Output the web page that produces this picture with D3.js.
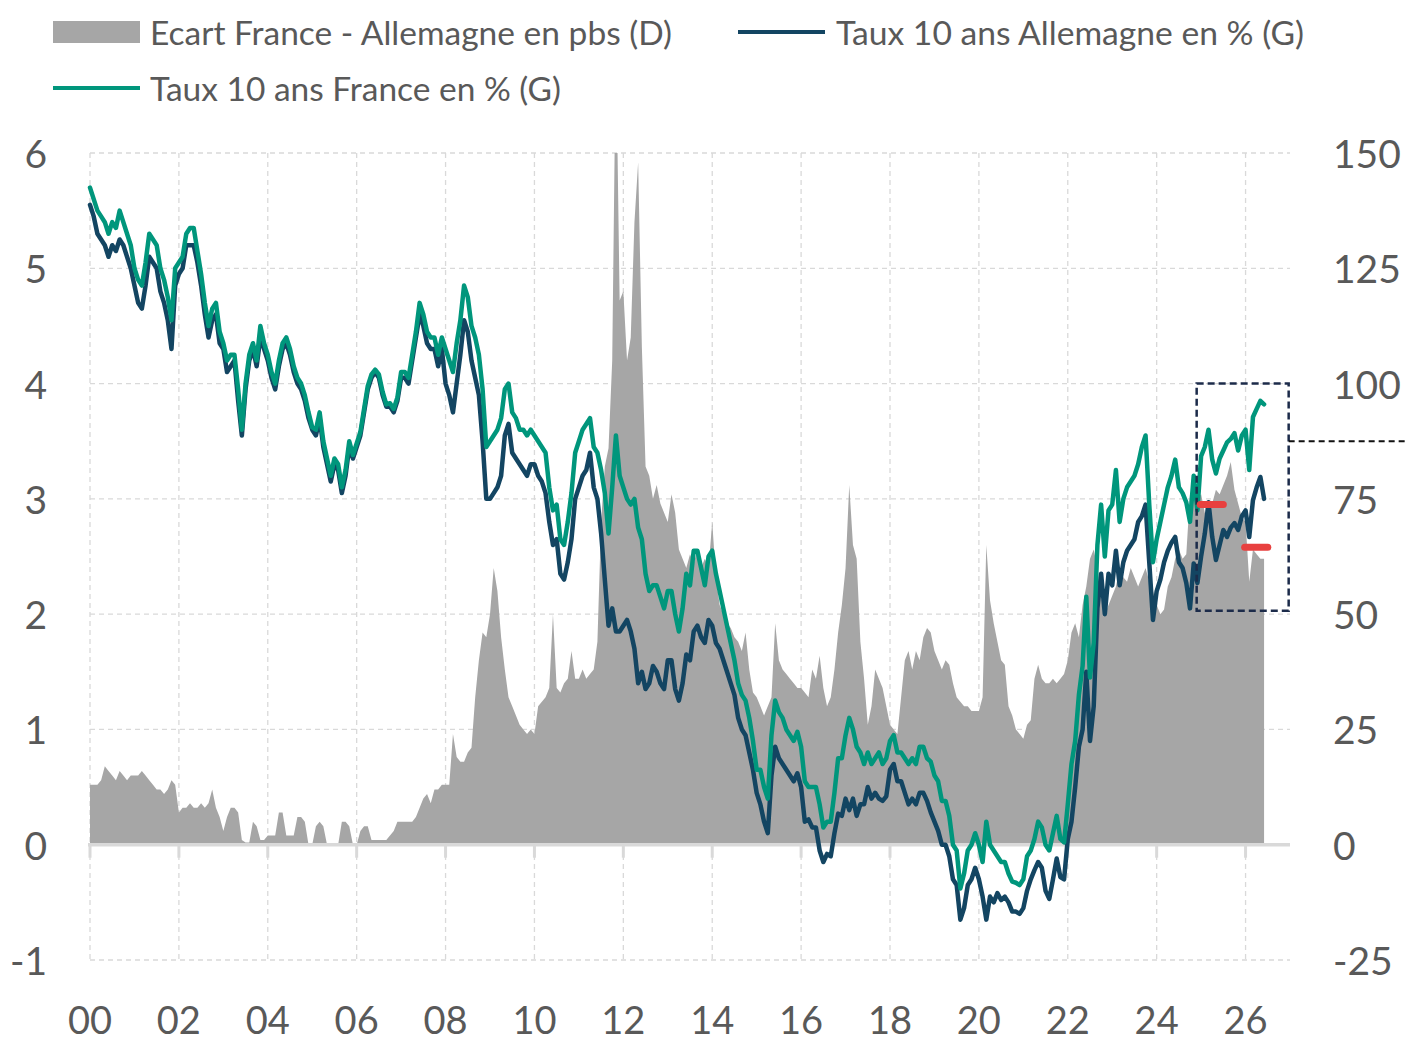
<!DOCTYPE html>
<html lang="fr">
<head>
<meta charset="UTF-8">
<title>Taux 10 ans France / Allemagne</title>
<style>
  body { margin: 0; background: #fff; font-family: Lato, "Open Sans", sans-serif; }
  .grid line { stroke: #d9d9d9; stroke-width: 1.3px; stroke-dasharray: 5,4; }
  .lbl { fill: #595959; font-size: 39px; }
  .xlbl { fill: #595959; font-size: 38px; }
  .legend text { fill: #595959; font-size: 33px; }
</style>
</head>
<body>
<svg width="1405" height="1042"></svg>
<script src="https://d3js.org/d3.v7.min.js"></script>
<script>
// monthly values, first point = Jan 2000
const de10 = [
  5.55, 5.45, 5.3, 5.25, 5.2, 5.1, 5.2, 5.15, 5.25, 5.2, 5.1, 5.0,        // 2000
  4.85, 4.7, 4.65, 4.85, 5.1, 5.05, 5.0, 4.8, 4.7, 4.55, 4.3, 4.85,       // 2001
  4.95, 5.0, 5.2, 5.2, 5.2, 5.05, 4.85, 4.6, 4.4, 4.55, 4.6, 4.35,        // 2002
  4.3, 4.1, 4.15, 4.2, 3.85, 3.55, 3.95, 4.2, 4.3, 4.15, 4.4, 4.3,        // 2003
  4.2, 4.05, 3.95, 4.15, 4.3, 4.35, 4.25, 4.1, 4.0, 3.95, 3.85, 3.7,      // 2004
  3.6, 3.55, 3.7, 3.45, 3.3, 3.15, 3.3, 3.25, 3.05, 3.2, 3.45, 3.35,      // 2005
  3.45, 3.55, 3.75, 3.95, 4.05, 4.1, 4.05, 3.9, 3.8, 3.8, 3.75, 3.85,     // 2006
  4.05, 4.05, 4.0, 4.2, 4.4, 4.6, 4.5, 4.35, 4.3, 4.3, 4.15, 4.3,         // 2007
  4.0, 3.9, 3.75, 4.0, 4.25, 4.55, 4.45, 4.2, 4.05, 3.9, 3.5, 3.0,        // 2008
  3.0, 3.05, 3.1, 3.2, 3.55, 3.65, 3.4, 3.35, 3.3, 3.25, 3.2, 3.3,        // 2009
  3.3, 3.2, 3.15, 3.05, 2.8, 2.6, 2.65, 2.35, 2.3, 2.45, 2.65, 3.0,       // 2010
  3.1, 3.2, 3.25, 3.4, 3.1, 3.0, 2.7, 2.3, 1.9, 2.05, 1.85, 1.85,         // 2011
  1.9, 1.95, 1.85, 1.7, 1.4, 1.5, 1.35, 1.4, 1.55, 1.5, 1.4, 1.35,        // 2012
  1.6, 1.6, 1.35, 1.25, 1.4, 1.65, 1.6, 1.85, 1.9, 1.8, 1.75, 1.95,       // 2013
  1.9, 1.75, 1.7, 1.6, 1.5, 1.4, 1.3, 1.1, 1.0, 0.95, 0.8, 0.65,          // 2014
  0.45, 0.35, 0.2, 0.1, 0.6, 0.85, 0.75, 0.7, 0.65, 0.6, 0.55, 0.62,      // 2015
  0.5, 0.2, 0.22, 0.15, 0.15, -0.05, -0.15, -0.08, -0.1, 0.1, 0.27, 0.25, // 2016
  0.4, 0.3, 0.4, 0.25, 0.35, 0.35, 0.5, 0.4, 0.45, 0.4, 0.38, 0.42,       // 2017
  0.65, 0.7, 0.55, 0.55, 0.45, 0.35, 0.4, 0.35, 0.45, 0.45, 0.38, 0.28,   // 2018
  0.2, 0.12, 0.0, 0.0, -0.1, -0.3, -0.35, -0.65, -0.55, -0.35, -0.3, -0.2,        // 2019
  -0.3, -0.45, -0.65, -0.45, -0.5, -0.42, -0.48, -0.45, -0.5, -0.58, -0.58, -0.6, // 2020
  -0.55, -0.4, -0.3, -0.22, -0.15, -0.2, -0.4, -0.47, -0.3, -0.12, -0.28, -0.3,   // 2021
  0.05, 0.2, 0.5, 0.85, 1.0, 1.5, 0.9, 1.2, 2.05, 2.35, 2.0, 2.35,        // 2022
  2.25, 2.55, 2.25, 2.45, 2.55, 2.6, 2.65, 2.8, 2.85, 2.95, 2.45, 1.95,   // 2023
  2.2, 2.3, 2.45, 2.55, 2.62, 2.67, 2.45, 2.4, 2.27, 2.05, 2.44, 2.27,    // 2024
  2.5, 2.7, 2.97, 2.67, 2.47, 2.6, 2.73, 2.67, 2.75, 2.79, 2.73, 2.85,    // 2025
  2.9, 2.67, 2.99, 3.1, 3.19, 3.0                                         // 2026
];
const fr10 = [
  5.7, 5.6, 5.5, 5.45, 5.4, 5.3, 5.4, 5.35, 5.5, 5.4, 5.3, 5.2,           // 2000
  5.0, 4.9, 4.85, 5.05, 5.3, 5.25, 5.2, 5.0, 4.9, 4.75, 4.55, 5.0,        // 2001
  5.05, 5.1, 5.3, 5.35, 5.35, 5.15, 4.95, 4.7, 4.5, 4.65, 4.7, 4.45,      // 2002
  4.35, 4.2, 4.25, 4.25, 3.95, 3.6, 4.0, 4.25, 4.35, 4.2, 4.5, 4.35,      // 2003
  4.25, 4.1, 4.0, 4.2, 4.35, 4.4, 4.3, 4.15, 4.05, 4.0, 3.9, 3.75,        // 2004
  3.62, 3.6, 3.75, 3.5, 3.35, 3.2, 3.35, 3.3, 3.1, 3.25, 3.5, 3.38,       // 2005
  3.48, 3.58, 3.78, 3.98, 4.08, 4.12, 4.08, 3.93, 3.82, 3.83, 3.78, 3.88, // 2006
  4.1, 4.1, 4.05, 4.25, 4.45, 4.7, 4.6, 4.45, 4.4, 4.4, 4.25, 4.4,        // 2007
  4.3, 4.2, 4.1, 4.35, 4.55, 4.85, 4.75, 4.5, 4.4, 4.25, 3.95, 3.45,      // 2008
  3.5, 3.55, 3.6, 3.7, 3.95, 4.0, 3.75, 3.7, 3.6, 3.6, 3.55, 3.6,         // 2009
  3.55, 3.5, 3.45, 3.4, 3.1, 2.9, 2.95, 2.65, 2.6, 2.8, 3.05, 3.4,        // 2010
  3.5, 3.6, 3.65, 3.7, 3.45, 3.4, 3.25, 3.05, 2.7, 3.1, 3.55, 3.2,        // 2011
  3.1, 3.0, 2.95, 3.0, 2.75, 2.65, 2.35, 2.2, 2.25, 2.25, 2.15, 2.05,     // 2012
  2.2, 2.2, 2.0, 1.85, 2.05, 2.35, 2.25, 2.55, 2.55, 2.4, 2.25, 2.5,      // 2013
  2.55, 2.35, 2.2, 2.05, 1.9, 1.75, 1.6, 1.4, 1.3, 1.25, 1.1, 0.9,        // 2014
  0.65, 0.65, 0.5, 0.4, 0.95, 1.25, 1.15, 1.1, 1.0, 0.95, 0.9, 0.98,      // 2015
  0.85, 0.55, 0.5, 0.5, 0.5, 0.35, 0.15, 0.2, 0.2, 0.45, 0.75, 0.75,      // 2016
  0.95, 1.1, 1.0, 0.85, 0.8, 0.7, 0.8, 0.7, 0.75, 0.8, 0.7, 0.75,         // 2017
  0.9, 0.95, 0.8, 0.8, 0.75, 0.7, 0.75, 0.7, 0.85, 0.85, 0.75, 0.72,      // 2018
  0.6, 0.55, 0.38, 0.38, 0.25, 0.0, -0.05, -0.38, -0.25, -0.05, 0.0, 0.1,         // 2019
  0.0, -0.15, 0.2, 0.0, -0.05, -0.1, -0.15, -0.15, -0.25, -0.32, -0.33, -0.35,    // 2020
  -0.3, -0.1, -0.05, 0.05, 0.2, 0.15, 0.0, -0.05, 0.1, 0.25, 0.05, 0.02,          // 2021
  0.35, 0.7, 0.9, 1.3, 1.55, 2.15, 1.45, 1.75, 2.6, 2.95, 2.5, 2.9,       // 2022
  2.95, 3.25, 2.8, 3.0, 3.1, 3.15, 3.2, 3.3, 3.45, 3.55, 2.95, 2.45,      // 2023
  2.65, 2.8, 2.95, 3.1, 3.2, 3.34, 3.1, 3.05, 2.97, 2.8, 3.2, 2.9,        // 2024
  3.37, 3.45, 3.6, 3.34, 3.22, 3.35, 3.42, 3.49, 3.52, 3.57, 3.42, 3.55,  // 2025
  3.6, 3.25, 3.71, 3.78, 3.85, 3.82                                       // 2026
];
const spreadBp = [
  13, 13, 13, 14, 17, 16, 15, 14, 16, 15, 14, 15,      // 2000
  15, 15, 16, 15, 14, 13, 12, 12, 11, 12, 14, 13,      // 2001
  7, 8, 8, 9, 8, 8, 9, 8, 9, 12, 8, 6,                 // 2002
  3, 6, 8, 8, 7, 1, 0.5, 0.5, 5, 4, 1, 1,              // 2003
  2, 2, 2, 7, 7, 2, 2, 2, 6, 6, 5, 0,                  // 2004
  0, 4, 5, 4, 0, 0, 0, 0, 5, 5, 4, 0,                  // 2005
  0, 3, 4, 4, 1, 1, 1, 1, 1, 2, 3, 5,                  // 2006
  5, 5, 5, 5, 6, 8, 10, 11, 9, 12, 12, 13,             // 2007
  13, 13, 24, 19, 18, 18, 20, 21, 32, 40, 46, 45,      // 2008
  50, 60, 55, 45, 38, 32, 30, 28, 26, 25, 24, 25,      // 2009
  24, 30, 31, 32, 34, 50, 34, 33, 35, 36, 42, 36,      // 2010
  36, 38, 36, 37, 38, 44, 70, 82, 86, 105, 175, 118,   // 2011
  120, 105, 110, 135, 148, 108, 82, 80, 75, 78, 74, 72, // 2012
  70, 76, 72, 64, 62, 60, 63, 61, 64, 60, 62, 60,      // 2013
  70, 58, 52, 50, 48, 47, 45, 44, 42, 46, 38, 33,      // 2014
  32, 30, 28, 30, 32, 48, 40, 38, 37, 36, 35, 34,      // 2015
  34, 33, 32, 38, 36, 41, 34, 30, 32, 38, 46, 52,      // 2016
  60, 78, 65, 62, 44, 36, 26, 30, 38, 36, 34, 30,      // 2017
  26, 25, 24, 32, 40, 42, 38, 42, 40, 45, 47, 46,      // 2018
  42, 40, 38, 40, 39, 35, 32, 31, 30, 30, 29, 29,      // 2019
  29, 32, 65, 53, 48, 44, 40, 39, 30, 28, 25, 24,      // 2020
  23, 26, 27, 36, 39, 36, 35, 35, 36, 35, 36, 37,      // 2021
  40, 46, 48, 45, 52, 56, 62, 64, 60, 54, 50, 52,      // 2022
  54, 56, 60, 58, 57, 60, 58, 56, 58, 60, 57, 55,      // 2023
  52, 50, 51, 56, 58, 62, 64, 62, 63, 76, 78, 75,      // 2024
  76, 72, 70, 74, 77, 76, 78, 80, 83, 77, 74, 71,      // 2025
  70, 57, 64, 63, 62, 62                               // 2026
];
const yearTicks = d3.range(2000, 2027, 2);
const leftTicks = [-1, 0, 1, 2, 3, 4, 5, 6];
const rightTicks = [-25, 0, 25, 50, 75, 100, 125, 150];
const legendItems = [
  { name: "Ecart France - Allemagne en pbs (D)", kind: "area", color: "#a6a6a6" },
  { name: "Taux 10 ans Allemagne en % (G)", kind: "line", color: "#134562" },
  { name: "Taux 10 ans France en % (G)", kind: "line", color: "#00967c" }
];
// annotation: dashed box, level line and two red marks (years / % units)
const box = { x0: 2024.9, x1: 2026.97, y0: 2.03, y1: 4.0 };
const levelLine = 3.5;
const redMarks = [ { x0: 2024.98, x1: 2025.5, y: 2.95 }, { x0: 2025.98, x1: 2026.5, y: 2.58 } ];

const svg = d3.select("svg");
const W = 1405;
const mLeft = 90, mRight = 1290, mTop = 153, mBottom = 960;

const t = i => 2000 + i / 12;
const x = d3.scaleLinear().domain([2000, 2027]).range([mLeft, mRight]);
const yL = d3.scaleLinear().domain([-1, 6]).range([mBottom, mTop]);
const yR = d3.scaleLinear().domain([-25, 150]).range([mBottom, mTop]);

svg.append("clipPath").attr("id", "plot")
  .append("rect").attr("x", mLeft).attr("y", mTop).attr("width", mRight - mLeft).attr("height", mBottom - mTop);

// grid
const grid = svg.append("g").attr("class", "grid");
grid.append("g").selectAll("line").data(leftTicks.filter(d => d !== 0)).join("line")
  .attr("x1", mLeft).attr("x2", mRight).attr("y1", d => yL(d)).attr("y2", d => yL(d));
grid.append("g").selectAll("line").data(yearTicks).join("line")
  .attr("x1", d => x(d)).attr("x2", d => x(d)).attr("y1", mTop).attr("y2", mBottom);

// spread area (right axis)
const area = d3.area().x((d, i) => x(t(i))).y0(yR(0)).y1(d => yR(d));
svg.append("path").datum(spreadBp)
  .attr("clip-path", "url(#plot)")
  .attr("fill", legendItems[0].color)
  .attr("d", area);

// zero line + ticks
svg.append("line").attr("x1", mLeft - 2).attr("x2", mRight).attr("y1", yL(0)).attr("y2", yL(0))
  .attr("stroke", "#d9d9d9").attr("stroke-width", 3.5);
svg.append("g").selectAll("line").data(yearTicks).join("line")
  .attr("x1", d => x(d)).attr("x2", d => x(d)).attr("y1", yL(0)).attr("y2", yL(0) + 13)
  .attr("stroke", "#d9d9d9").attr("stroke-width", 3);

// rate lines (left axis)
const line = d3.line().x((d, i) => x(t(i))).y(d => yL(d));
[[de10, legendItems[1].color], [fr10, legendItems[2].color]].forEach(([s, c]) => {
  svg.append("path").datum(s)
    .attr("fill", "none").attr("stroke", c).attr("stroke-width", 4.5)
    .attr("stroke-linejoin", "round").attr("stroke-linecap", "round")
    .attr("d", line);
});

// axis labels
svg.append("g").selectAll("text").data(leftTicks).join("text")
  .attr("class", "lbl").attr("x", 47).attr("y", d => yL(d))
  .attr("text-anchor", "end").attr("dominant-baseline", "central").text(d => d);
svg.append("g").selectAll("text").data(rightTicks).join("text")
  .attr("class", "lbl").attr("x", 1333).attr("y", d => yR(d))
  .attr("text-anchor", "start").attr("dominant-baseline", "central").text(d => d);
svg.append("g").selectAll("text").data(yearTicks).join("text")
  .attr("class", "xlbl").attr("x", d => x(d)).attr("y", 1019)
  .attr("text-anchor", "middle").attr("dominant-baseline", "central")
  .text(d => String(d % 100).padStart(2, "0"));

// annotations
svg.append("rect")
  .attr("x", x(box.x0)).attr("y", yL(box.y1))
  .attr("width", x(box.x1) - x(box.x0)).attr("height", yL(box.y0) - yL(box.y1))
  .attr("fill", "none").attr("stroke", "#1c2b4a").attr("stroke-width", 2.5).attr("stroke-dasharray", "7,4");
svg.append("line")
  .attr("x1", x(box.x1)).attr("x2", W).attr("y1", yL(levelLine)).attr("y2", yL(levelLine))
  .attr("stroke", "#111").attr("stroke-width", 2).attr("stroke-dasharray", "6,4");
svg.append("g").selectAll("line").data(redMarks).join("line")
  .attr("x1", d => x(d.x0)).attr("x2", d => x(d.x1)).attr("y1", d => yL(d.y)).attr("y2", d => yL(d.y))
  .attr("stroke", "#e8403f").attr("stroke-width", 7).attr("stroke-linecap", "round");

// legend
const legendPos = [
  { sx: 53, tx: 150, y: 32, w: 522 },
  { sx: 738, tx: 836, y: 32, w: 468 },
  { sx: 53, tx: 150, y: 88, w: 411 }
];
const lg = svg.append("g").attr("class", "legend");
legendItems.forEach((d, i) => {
  const p = legendPos[i];
  if (d.kind === "area") {
    lg.append("rect").attr("x", p.sx).attr("y", p.y - 11).attr("width", 87).attr("height", 22).attr("fill", d.color);
  } else {
    lg.append("line").attr("x1", p.sx).attr("x2", p.sx + 87).attr("y1", p.y).attr("y2", p.y)
      .attr("stroke", d.color).attr("stroke-width", 4);
  }
  lg.append("text").attr("x", p.tx).attr("y", p.y).attr("dominant-baseline", "central")
    .attr("textLength", p.w).attr("lengthAdjust", "spacingAndGlyphs").text(d.name);
});
</script>
</body>
</html>
